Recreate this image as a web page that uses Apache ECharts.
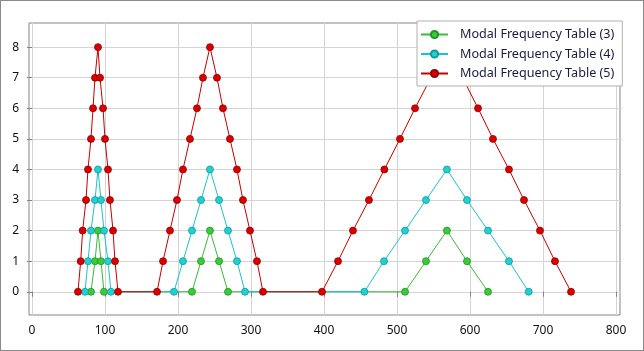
<!DOCTYPE html>
<html>
<head>
<meta charset="utf-8">
<script src="https://cdn.jsdelivr.net/npm/echarts@6/dist/echarts.min.js"></script>
<style>
  body { margin: 0; background: #fff; }
  #main { position: absolute; left: 0; top: 0; width: 644px; height: 351px; }
  #frame { position: absolute; left: 0; top: 0; width: 644px; height: 351px; box-sizing: border-box; border: 1px solid #8a8a8a; pointer-events: none; }
</style>
</head>
<body>
<div id="main"></div>
<div id="frame"></div>
<script>
// series names
var seriesNames = ['Modal Frequency Table (3)', 'Modal Frequency Table (4)', 'Modal Frequency Table (5)']

// tick labels
var xTicks = [0, 100, 200, 300, 400, 500, 600, 700, 800]
var yTicks = [0, 1, 2, 3, 4, 5, 6, 7, 8]

// Modal Frequency Table (3)
var t3X = [80.8, 86.3, 90.4, 94.5, 98.6, 219.2, 231.5, 243.8, 256.2, 268.5, 511, 539.7, 568.4, 595.9, 624.7]
var t3Y = [0, 1, 2, 1, 0, 0, 1, 2, 1, 0, 0, 1, 2, 1, 0]

// Modal Frequency Table (4)
var t4X = [72.6, 76.7, 80.8, 86.3, 90.4, 94.5, 98.6, 104.1, 108.2,
  194.5, 206.8, 219.2, 231.5, 243.8, 256.2, 268.5, 280.8, 291.8,
  455.3, 482.2, 511, 539.7, 568.4, 595.9, 624.7, 653.4, 680.4]
var t4Y = [0, 1, 2, 3, 4, 3, 2, 1, 0,
  0, 1, 2, 3, 4, 3, 2, 1, 0,
  0, 1, 2, 3, 4, 3, 2, 1, 0]

// Modal Frequency Table (5)
var t5X = [63, 66.7, 69.4, 74, 76.7, 80.8, 83.6, 86.3, 90.4, 93.2, 97.3, 100, 104.1, 106.8, 111, 113.7, 117.8,
  171.3, 179.5, 189, 198.6, 206.8, 216.4, 226, 234.2, 243.8, 253.4, 261.6, 271.2, 280.8, 289, 298.6, 308.2, 316.4,
  397.3, 419.2, 439.7, 461.6, 482.7, 504.1, 524.7, 546.5, 568.4, 590, 611, 631.5, 653.4, 674, 695.9, 716.4, 738.4]
var t5Y = [0, 1, 2, 3, 4, 5, 6, 7, 8, 7, 6, 5, 4, 3, 2, 1, 0,
  0, 1, 2, 3, 4, 5, 6, 7, 8, 7, 6, 5, 4, 3, 2, 1, 0,
  0, 1, 2, 3, 4, 5, 6, 7, 8, 7, 6, 5, 4, 3, 2, 1, 0]

function zip(xs, ys) {
  return xs.map(function (x, i) { return [x, ys[i]] })
}

var lineColors = ['#3cb83c', '#1cc3c8', '#c40000']
var fillColors = ['#38cc38', '#22d0d0', '#d80000']
var edgeColors = ['#22922a', '#109a9e', '#950000']
var allData = [zip(t3X, t3Y), zip(t4X, t4Y), zip(t5X, t5Y)]

var labelFont = { fontFamily: 'Noto Sans', fontSize: 12, color: '#111' }

var myChart = echarts.init(document.getElementById('main'), null, { renderer: 'canvas' })

var option = {
  animation: false,
  backgroundColor: '#fff',
  textStyle: { fontFamily: 'Noto Sans' },
  grid: {
    left: 29,
    top: 23,
    right: 24,
    bottom: 36,
    show: true,
    borderColor: '#858585',
    borderWidth: 1,
    backgroundColor: '#fff',
  },
  legend: {
    orient: 'vertical',
    left: 417,
    top: 21,
    padding: [7, 8, 6, 3],
    itemGap: 6.5,
    itemWidth: 27,
    itemHeight: 9,
    backgroundColor: '#fff',
    borderColor: '#b0b0b0',
    borderWidth: 1,
    textStyle: { fontFamily: 'Noto Sans', fontSize: 12.6, color: '#1a1a40', padding: [0, 0, 0, 7] },
    data: seriesNames,
  },
  xAxis: {
    type: 'value',
    min: -4.1,
    max: 805.5,
    minInterval: 100,
    maxInterval: 100,
    axisLine: { show: false },
    axisTick: { show: true, length: 5, customValues: xTicks, lineStyle: { color: '#858585' } },
    axisLabel: Object.assign({ margin: 10, customValues: xTicks }, labelFont),
    splitLine: { show: true, lineStyle: { color: '#d4d4d4', width: 1 } },
  },
  yAxis: {
    type: 'value',
    min: -0.76,
    max: 8.79,
    minInterval: 1,
    maxInterval: 1,
    axisLine: { show: false },
    axisTick: { show: true, length: 5, customValues: yTicks, lineStyle: { color: '#858585' } },
    axisLabel: Object.assign({ margin: 10, customValues: yTicks }, labelFont),
    splitLine: { show: true, lineStyle: { color: '#d4d4d4', width: 1 } },
  },
  series: seriesNames.map(function (name, i) {
    return {
      name: name,
      type: 'line',
      data: allData[i],
      symbol: 'circle',
      symbolSize: 7,
      showAllSymbol: true,
      lineStyle: { color: lineColors[i], width: 1 },
      itemStyle: { color: fillColors[i], borderColor: edgeColors[i], borderWidth: 0.8 },
      emphasis: { disabled: true },
    }
  }),
}

myChart.setOption(option)
</script>
</body>
</html>
